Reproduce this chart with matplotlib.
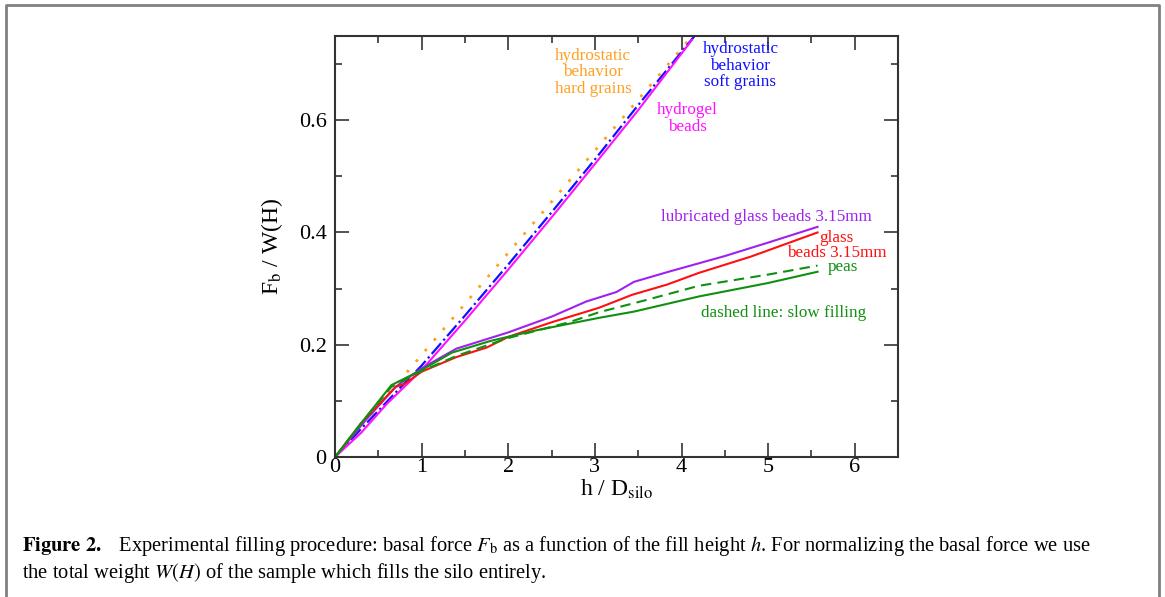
import matplotlib
matplotlib.use('Agg')
import matplotlib.pyplot as plt
from matplotlib.lines import Line2D
from matplotlib.ticker import MultipleLocator

plt.rcParams['font.family'] = ['Liberation Serif', 'DejaVu Serif']
plt.rcParams['mathtext.fontset'] = 'stix'

# hydrostatic behaviour, hard grains (straight line)
hard_x = [0.0, 4.15]
hard_y = [0.0, 0.755]

# hydrostatic behaviour, soft grains
soft_x = [0.0, 0.3, 0.7, 1.0, 1.5, 2.0, 2.5, 3.0, 3.5, 4.15]
soft_y = [0.0, 0.05, 0.115, 0.163, 0.252, 0.343, 0.436, 0.53, 0.627, 0.75]

# hydrogel beads
gel_x = [0.0, 0.3, 0.6, 1.0, 1.5, 2.0, 2.5, 3.0, 3.5, 4.12]
gel_y = [0.0, 0.043, 0.095, 0.155, 0.243, 0.334, 0.427, 0.522, 0.618, 0.743]

# lubricated glass beads 3.15mm
lub_x = [0.0, 0.35, 0.7, 1.0, 1.4, 2.0, 2.5, 2.9, 3.25, 3.45, 3.85, 4.5, 5.0, 5.57]
lub_y = [0.0, 0.065, 0.125, 0.158, 0.193, 0.222, 0.25, 0.277, 0.294, 0.312, 0.33, 0.358, 0.382, 0.41]

# glass beads 3.15mm
glass_x = [0.0, 0.3, 0.7, 0.8, 1.0, 1.4, 1.75, 2.0, 2.5, 3.05, 3.43, 3.83, 4.2, 4.8, 5.57]
glass_y = [0.0, 0.06, 0.125, 0.13, 0.152, 0.178, 0.195, 0.214, 0.24, 0.266, 0.289, 0.307, 0.328, 0.357, 0.40]

# peas, fast filling
peas_x = [0.0, 0.3, 0.65, 1.0, 1.35, 1.8, 2.3, 3.05, 3.45, 4.2, 5.0, 5.57]
peas_y = [0.0, 0.06, 0.128, 0.155, 0.186, 0.207, 0.225, 0.248, 0.259, 0.286, 0.31, 0.33]

# peas, slow filling
slow_x = [0.0, 0.3, 0.65, 1.0, 1.4, 2.0, 2.7, 3.05, 3.6, 4.2, 5.0, 5.57]
slow_y = [0.0, 0.06, 0.125, 0.153, 0.18, 0.212, 0.24, 0.258, 0.28, 0.305, 0.325, 0.341]

fig = plt.figure(figsize=(11.65, 5.97), dpi=100)
ax = fig.add_axes([0.2876, 0.2345, 0.4833, 0.7052])

ax.plot(hard_x, hard_y, color='#ffa020', linestyle=(0, (1, 4)), lw=2)
ax.plot(soft_x, soft_y, color='#1010ff', linestyle='-.', lw=1.6)
ax.plot(gel_x, gel_y, color='#ff10ff', lw=1.5)
ax.plot(lub_x, lub_y, color='#a020f0', lw=1.5)
ax.plot(glass_x, glass_y, color='#ff1010', lw=1.5)
ax.plot(slow_x, slow_y, color='#109010', lw=1.5, linestyle=(0, (5, 3)))
ax.plot(peas_x, peas_y, color='#109010', lw=1.5)

ax.set_xlim(0, 6.5)
ax.set_ylim(0, 0.75)
ax.xaxis.set_major_locator(MultipleLocator(1))
ax.xaxis.set_minor_locator(MultipleLocator(0.5))
ax.yaxis.set_major_locator(MultipleLocator(0.2))
ax.yaxis.set_minor_locator(MultipleLocator(0.1))
ax.set_xticks([0, 1, 2, 3, 4, 5, 6])
ax.set_yticks([0, 0.2, 0.4, 0.6])
ax.set_yticklabels(['0', '0.2', '0.4', '0.6'])
ax.tick_params(which='both', direction='in', top=True, right=True, labelsize=16, width=1.2, color='#333333')
ax.tick_params(which='major', length=10)
ax.tick_params(which='minor', length=5)
ax.tick_params(axis='x', pad=1)
ax.tick_params(axis='y', pad=6)
for s in ax.spines.values():
    s.set_linewidth(1.5)
    s.set_color('#333333')

ax.set_xlabel(r'h / D$_{\mathrm{silo}}$', fontsize=17, labelpad=0)
ax.set_ylabel(r'F$_{\mathrm{b}}$ / W(H)', fontsize=17, labelpad=10)

ts = 12.3
ax.text(2.98, 0.729, 'hydrostatic\nbehavior\nhard grains', color='#ffa020', fontsize=ts,
        ha='center', va='top', linespacing=1.05)
ax.text(4.68, 0.741, 'hydrostatic\nbehavior\nsoft grains', color='#1010ff', fontsize=ts,
        ha='center', va='top', linespacing=1.05)
ax.text(4.07, 0.632, 'hydrogel\nbeads', color='#ff10ff', fontsize=ts,
        ha='center', va='top', linespacing=1.05)
ax.text(4.98, 0.427, 'lubricated glass beads 3.15mm', color='#a020f0', fontsize=ts,
        ha='center', va='center')
ax.text(5.79, 0.405, 'glass\nbeads 3.15mm', color='#ff1010', fontsize=ts,
        ha='center', va='top', linespacing=0.95)
ax.text(5.86, 0.338, 'peas', color='#109010', fontsize=ts, ha='center', va='center')
ax.text(5.18, 0.257, 'dashed line: slow filling', color='#109010', fontsize=ts,
        ha='center', va='center')

# caption
fig.text(22 / 1165, 1 - 551 / 597,
         r'$\mathbf{Figure\ 2.}$' + '   Experimental filling procedure: basal force '
         + r'$F_\mathrm{b}$' + ' as a function of the fill height ' + r'$h$'
         + '. For normalizing the basal force we use',
         fontsize=14.8, ha='left', va='baseline')
fig.text(22 / 1165, 1 - 578 / 597,
         'the total weight ' + r'$W(H)$' + ' of the sample which fills the silo entirely.',
         fontsize=14.8, ha='left', va='baseline')

# gray frame around the figure
frame_x = [6 / 1165, 6 / 1165, 1159 / 1165, 1159 / 1165]
frame_y = [0.0, 1 - 5 / 597, 1 - 5 / 597, 0.0]
fig.add_artist(Line2D(frame_x, frame_y, transform=fig.transFigure, color='#808080', lw=2))

fig.savefig('out.png', dpi=100)
